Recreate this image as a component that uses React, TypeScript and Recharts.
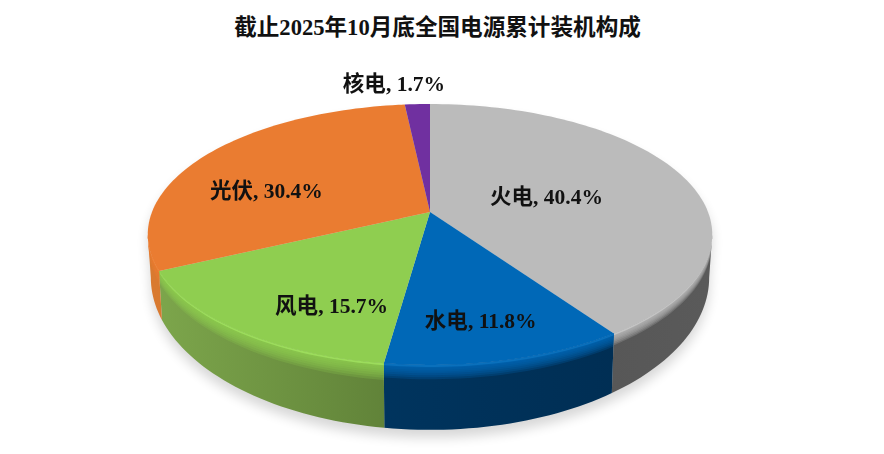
import React from "react";
import { PieChart, Pie, Cell } from "recharts";

const TITLE = "截止2025年10月底全国电源累计装机构成";
const categories = ["火电", "水电", "风电", "光伏", "核电"];
const shares = [40.4, 11.8, 15.7, 30.4, 1.7];
const tableData = categories.map((name, i) => ({ name, value: shares[i] }));

const faceColors = ["#bbbbbb", "#0068b7", "#8fce50", "#ea7c31", "#7030a0"];
const rimLights = ["#c4c4c4", "#0a70bc", "#9cdc5c", "#ee8638", "#7030a0"];
const wallLeft = ["#4a4a4a", "#003a68", "#7ca54b", "#d97a30", "#4a2070"];
const wallRight = ["#5a5a5a", "#002c50", "#618339", "#b8662a", "#4a2070"];
const bevelDepth = [0.2, 0.22, 0.26, 0.28, 0.2];
const labelNudge: [number, number][] = [[-38, 7], [8, 27], [9, 27], [-25, 14], [-28, -59]];

const W = 884, H = 454, CX = 430, CY = 212, R = 278;
const K = 0.1725, FLAT = 0.4554;
const BOT_R = 275 / 278, BOT_C = 39, BOT_S = 148 / 278;
const FONT = '"Liberation Serif", "Noto Sans CJK SC", serif';

// Perspective view of a flat disc: polar point to screen.
const project = (deg: number, f: number, cx: number, cy: number, r: number) => {
  const a = (deg * Math.PI) / 180;
  const u = Math.cos(a) * f, v = -Math.sin(a) * f;
  const w = 1 - K * v;
  return [cx + (r * u) / w, cy + (r * FLAT * v) / w];
};
const projectLow = (deg: number, cx: number, cy: number, r: number) => {
  const a = (deg * Math.PI) / 180;
  const u = Math.cos(a), v = -Math.sin(a);
  const w = 1 - K * v;
  return [cx + (r * BOT_R * u) / w, cy + BOT_C + (r * BOT_S * v) / w];
};
const arcAngles = (a0: number, a1: number) => {
  const n = Math.max(2, Math.ceil(Math.abs(a1 - a0) / 1.5));
  return Array.from({ length: n + 1 }, (_, i) => a0 + ((a1 - a0) * i) / n);
};
const pts = (list: number[][]) => list.map((p) => `${p[0].toFixed(2)},${p[1].toFixed(2)}`).join(" L");

const facePath = (p: any) => {
  const arc = arcAngles(p.startAngle, p.endAngle).map((d) => project(d, 1, p.cx, p.cy, p.outerRadius));
  return `M${p.cx},${p.cy} L${pts(arc)} Z`;
};
// Front of the disc is between -170 and -10 degrees in chart angle terms.
const wallPath = (p: any, t: number) => {
  const s = Math.min(p.startAngle, p.endAngle), e = Math.max(p.startAngle, p.endAngle);
  const ranges: [number, number][] = [];
  for (const off of [0, -360]) {
    const lo = Math.max(s + off, -170), hi = Math.min(e + off, -10);
    if (hi > lo) ranges.push([lo, hi]);
  }
  return ranges
    .map(([lo, hi]) => {
      const angles = arcAngles(lo, hi);
      const top = angles.map((d) => project(d, 1, p.cx, p.cy, p.outerRadius));
      const low = angles
        .map((d) => {
          const a = project(d, 1, p.cx, p.cy, p.outerRadius);
          const b = projectLow(d, p.cx, p.cy, p.outerRadius);
          return [a[0] + (b[0] - a[0]) * t, a[1] + (b[1] - a[1]) * t];
        })
        .reverse();
      return `M${pts(top)} L${pts(low)} Z`;
    })
    .join(" ");
};

const ShadowSlice = (p: any) => (
  <g transform="translate(0,8)">
    <path d={facePath(p)} fill="#000" />
    <path d={wallPath(p, 1)} fill="#000" />
  </g>
);

const SolidSlice = (p: any) => {
  const i = p.index ?? categories.indexOf(p.name);
  const id = `wall-${i}`;
  const bevelSteps = [1, 0.86, 0.72, 0.58, 0.46, 0.34, 0.22, 0.12];
  return (
    <g>
      <defs>
        <linearGradient id={id} gradientUnits="userSpaceOnUse" x1={150} x2={710} y1={0} y2={0}>
          <stop offset={i === 2 ? 0.02 : 0} stopColor={wallLeft[i]} />
          <stop offset={i === 2 ? 0.42 : 1} stopColor={wallRight[i]} />
        </linearGradient>
      </defs>
      <path d={wallPath(p, 1)} fill={`url(#${id})`} />
      {bevelSteps.map((b) => (
        <path key={b} d={wallPath(p, b * bevelDepth[i])} fill={faceColors[i]} fillOpacity={0.24} />
      ))}
      <path d={wallPath(p, 0.03)} fill={rimLights[i]} />
      <path d={facePath(p)} fill={faceColors[i]} />
    </g>
  );
};

const SliceLabel = (p: any) => {
  const i = p.index;
  const mid = (p.startAngle + p.endAngle) / 2;
  const anchor = project(mid, 0.6, p.cx, p.cy, p.outerRadius);
  return (
    <text
      x={anchor[0] + labelNudge[i][0]}
      y={anchor[1] + labelNudge[i][1] + 7}
      textAnchor="middle"
      fontFamily={FONT}
      fontSize={21.5}
      fill="#111"
    >
      <tspan fontWeight={700}>{categories[i]},</tspan>
      <tspan fontWeight={700}> {shares[i].toFixed(1)}%</tspan>
    </text>
  );
};

export default function App() {
  return (
    <div style={{ position: "absolute", left: 0, top: 0, width: W, height: H, background: "#fff", overflow: "hidden", filter: "blur(0.45px)" }}>
      <style>{`.pie-shadow{filter:blur(6px);opacity:.16}`}</style>
      <svg width={W} height={H} style={{ position: "absolute", left: 0, top: 0 }}>
        <text x={437.5} y={35} textAnchor="middle" fontFamily={FONT} fontWeight={700} fontSize={22.6} fill="#111">
          {TITLE}
        </text>
      </svg>
      <div style={{ position: "absolute", left: 0, top: 0 }}>
        <PieChart width={W} height={H} margin={{ top: 0, right: 0, bottom: 0, left: 0 }}>
          <Pie
            className="pie-shadow"
            data={tableData}
            dataKey="value"
            nameKey="name"
            cx={CX}
            cy={CY}
            innerRadius={0}
            outerRadius={R}
            startAngle={90}
            endAngle={-270}
            stroke="none"
            isAnimationActive={false}
            shape={ShadowSlice}
            legendType="none"
          />
          <Pie
            data={tableData}
            dataKey="value"
            nameKey="name"
            cx={CX}
            cy={CY}
            innerRadius={0}
            outerRadius={R}
            startAngle={90}
            endAngle={-270}
            stroke="none"
            isAnimationActive={false}
            shape={SolidSlice}
            label={SliceLabel}
            labelLine={false}
          >
            {tableData.map((d, i) => (
              <Cell key={d.name} fill={faceColors[i]} />
            ))}
          </Pie>
        </PieChart>
      </div>
    </div>
  );
}
